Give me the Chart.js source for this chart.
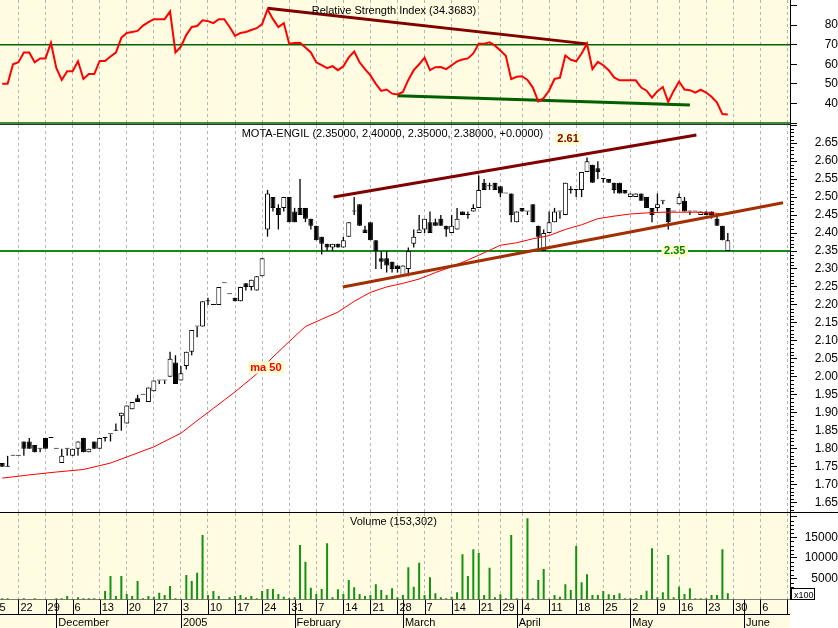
<!DOCTYPE html>
<html>
<head>
<meta charset="utf-8">
<script src="https://cdn.jsdelivr.net/npm/chart.js@4.4.1/dist/chart.umd.min.js"></script>
<style>
html, body { margin: 0; padding: 0; background: #fff; }
#wrap { position: relative; width: 838px; height: 628px; overflow: hidden; }
canvas { position: absolute; left: 0; }
</style>
</head>
<body>
<div id="wrap">
  <canvas id="rsiChart" width="838" height="125" style="top:0px"></canvas>
  <canvas id="priceChart" width="838" height="388" style="top:125px"></canvas>
  <canvas id="volChart" width="838" height="115" style="top:513px"></canvas>
</div>
<script>
// trading day index: 0 = 17 Nov 2004 ... 134 = 27 May 2005
const mondayIdx = [-2, 3, 8, 13, 18, 23, 28, 33, 38, 43, 48, 53, 58, 63, 68, 73, 78, 83, 88, 92, 96, 101, 106, 111, 116, 121, 125, 130, 135, 140, 145];
const mondayLbl = ['15','22','29','6','13','20','27','3','10','17','24','31','7','14','21','28','7','14','21','29','4','11','18','25','2','9','16','23','30','6','13'];
const monthIdx = [10, 33, 54, 74, 95, 116, 137];
const monthLbl = ['December', '2005', 'February', 'March', 'April', 'May', 'June'];

const open = [
  1.76,1.75,1.78,1.78,1.82,1.82,1.81,1.80,1.83,1.83,
  1.80,1.76,1.80,1.78,1.80,1.83,1.79,1.82,1.80,1.83,
  1.84,1.85,1.89,1.87,1.91,1.94,1.95,1.93,1.96,1.99,
  1.99,2.00,2.04,1.99,2.03,2.07,2.14,2.14,2.21,2.20,
  2.20,2.26,2.23,2.22,2.21,2.26,2.25,2.24,2.28,2.41,
  2.50,2.47,2.47,2.50,2.46,2.47,2.47,2.44,2.42,2.39,
  2.37,2.36,2.37,2.36,2.39,2.46,2.48,2.41,2.43,2.38,
  2.33,2.33,2.32,2.31,2.28,2.30,2.37,2.40,2.41,2.43,
  2.43,2.44,2.42,2.40,2.41,2.46,2.45,2.46,2.47,2.54,
  2.53,2.54,2.53,2.51,2.51,2.43,2.47,2.46,2.48,2.42,
  2.35,2.40,2.43,2.46,2.45,2.52,2.52,2.52,2.57,2.59,
  2.58,2.55,2.55,2.54,2.54,2.52,2.50,2.50,2.51,2.50,
  2.47,2.47,2.49,2.47,2.46,2.48,2.49,2.46,2.46,2.45,
  2.46,2.46,2.44,2.42,2.35];
const high = [
  1.76,1.78,1.78,1.78,1.82,1.83,1.81,1.80,1.83,1.83,
  1.80,1.80,1.80,1.80,1.82,1.83,1.80,1.82,1.83,1.83,
  1.84,1.87,1.90,1.92,1.93,1.95,1.95,1.97,1.99,1.99,
  1.99,2.07,2.06,2.03,2.07,2.13,2.14,2.21,2.22,2.20,
  2.25,2.26,2.23,2.22,2.25,2.26,2.27,2.28,2.33,2.52,
  2.50,2.48,2.50,2.50,2.47,2.55,2.47,2.44,2.42,2.39,
  2.37,2.37,2.37,2.39,2.43,2.50,2.48,2.42,2.43,2.38,
  2.35,2.35,2.32,2.31,2.31,2.36,2.41,2.45,2.44,2.46,
  2.44,2.45,2.42,2.45,2.47,2.46,2.46,2.48,2.56,2.55,
  2.54,2.54,2.53,2.51,2.51,2.46,2.47,2.46,2.48,2.42,
  2.41,2.46,2.47,2.46,2.54,2.53,2.52,2.57,2.61,2.59,
  2.60,2.55,2.55,2.54,2.54,2.52,2.51,2.51,2.51,2.50,
  2.47,2.51,2.49,2.47,2.46,2.51,2.50,2.46,2.46,2.46,
  2.46,2.46,2.45,2.42,2.40];
const low = [
  1.75,1.75,1.78,1.78,1.78,1.80,1.79,1.79,1.80,1.83,
  1.80,1.76,1.78,1.78,1.78,1.79,1.79,1.80,1.80,1.82,
  1.82,1.85,1.85,1.87,1.91,1.93,1.95,1.93,1.96,1.98,
  1.98,2.00,1.98,1.99,2.02,2.06,2.11,2.14,2.20,2.20,
  2.20,2.26,2.23,2.21,2.21,2.24,2.24,2.24,2.28,2.39,
  2.46,2.41,2.46,2.43,2.43,2.45,2.43,2.41,2.38,2.34,
  2.35,2.35,2.36,2.36,2.39,2.45,2.42,2.40,2.38,2.30,
  2.30,2.29,2.29,2.29,2.28,2.28,2.36,2.40,2.40,2.40,
  2.42,2.42,2.39,2.40,2.41,2.45,2.44,2.46,2.47,2.52,
  2.52,2.52,2.50,2.51,2.43,2.43,2.46,2.45,2.43,2.35,
  2.35,2.40,2.43,2.44,2.45,2.51,2.50,2.50,2.57,2.54,
  2.55,2.54,2.54,2.51,2.51,2.51,2.50,2.50,2.49,2.47,
  2.43,2.46,2.48,2.41,2.46,2.48,2.46,2.45,2.46,2.45,
  2.45,2.44,2.42,2.38,2.35];
const close = [
  1.75,1.75,1.78,1.78,1.80,1.80,1.79,1.80,1.80,1.83,
  1.80,1.78,1.80,1.80,1.82,1.79,1.80,1.80,1.83,1.83,
  1.84,1.85,1.90,1.92,1.93,1.93,1.95,1.97,1.99,1.99,
  1.99,2.05,1.98,2.01,2.07,2.13,2.14,2.21,2.21,2.20,
  2.25,2.26,2.23,2.21,2.25,2.25,2.27,2.28,2.33,2.51,
  2.47,2.45,2.50,2.43,2.43,2.45,2.44,2.42,2.38,2.37,
  2.36,2.37,2.36,2.38,2.43,2.46,2.42,2.40,2.38,2.35,
  2.32,2.31,2.30,2.30,2.31,2.35,2.39,2.41,2.44,2.40,
  2.42,2.42,2.41,2.42,2.44,2.45,2.45,2.47,2.52,2.52,
  2.53,2.52,2.51,2.51,2.45,2.46,2.46,2.46,2.43,2.39,
  2.40,2.43,2.46,2.46,2.54,2.52,2.52,2.57,2.60,2.54,
  2.57,2.55,2.54,2.52,2.51,2.51,2.51,2.51,2.49,2.47,
  2.45,2.48,2.49,2.43,2.46,2.50,2.46,2.46,2.46,2.46,
  2.45,2.45,2.42,2.38,2.38];
// volume in hundreds of shares
const volume = [
  280,280,100,100,280,100,280,100,100,100,
  280,280,840,100,520,280,280,280,100,2050,
  5660,840,5660,1330,840,4460,280,840,680,1650,
  1080,3250,280,100,5900,4460,6470,15540,1080,2050,
  840,100,520,840,1080,520,840,280,2050,2530,
  2530,1330,680,360,520,13130,9120,2850,1330,2530,
  13530,520,2450,1330,4700,2930,1330,840,1080,3650,
  2290,1080,2690,520,1080,7750,3090,8880,1080,5340,
  1490,520,280,680,1730,10880,5660,12090,11290,1080,
  7670,520,1250,280,15540,280,200,19560,280,4700,
  7350,200,1080,680,3650,2290,12890,4140,6060,1080,
  1080,2050,1250,1080,1490,280,280,280,1080,2130,
  12330,520,1730,10720,520,3090,1330,2690,280,280,
  280,1080,1080,12090,1530];
const rsi = [
  50,50,60,61,66,66,61,63,63,71,
  58,52,56.5,56.5,61.5,52.5,55,55,61.7,61.7,
  64,66,73.5,76,76.5,77,79.7,81.5,83,83,
  83,87,66,69,75,79,79.5,82.4,82,81,
  83,83,79,74.5,76,76.5,77.5,78.4,80.5,88,
  83,79,81,70.5,70.8,71,68.5,66,61,59.5,
  58,59,57,59,63.5,66.5,61,57.5,54.3,50,
  46.4,47.1,45,44.6,45.9,52,57,60,63.4,57,
  58.5,58.6,57.5,59.5,61.5,62.4,63,65.5,70.5,70.5,
  71.2,69.5,67,64.3,52.4,53.6,53.9,52,48.1,41,
  42.8,46.6,52.5,53.2,64.5,62.3,61.5,65.5,70.5,57.5,
  61.2,59.5,57,53.3,51.8,51.8,51.8,51.8,48.1,46.5,
  43,46.3,48.4,40.8,46.4,51.2,47.1,46.8,45.5,47,
  45.6,43.4,40.5,34.6,34.37];
// 50 day moving average, read at these day indexes
const maIdx = [0,5,10,15,20,25,28,31,33,36,39,43,47,50,53,56,59,62,65,68,71,74,77,80,83,86,89,92,95,98,101,104,107,110,113,116,119,122,125,128,131,134];
const maVal = [1.718,1.727,1.735,1.742,1.760,1.788,1.805,1.828,1.843,1.878,1.912,1.958,2.008,2.055,2.098,2.140,2.160,2.180,2.210,2.235,2.250,2.260,2.272,2.290,2.306,2.325,2.345,2.366,2.373,2.384,2.393,2.410,2.423,2.440,2.447,2.453,2.456,2.458,2.458,2.458,2.456,2.452];

// trend lines (day index, value)
const rsiResX = [49, 108], rsiResY = [88.6, 70.4];
const rsiSupX = [73, 127], rsiSupY = [44, 39.2];
const priceResX = [61.2, 128.2], priceResY = [2.50, 2.673];
const priceSupX = [62.9, 144.2], priceSupY = [2.25, 2.484];
const rsiLevels = [70, 30];
const supportLevel = 2.35;

const FONT = "'Liberation Sans', Arial, sans-serif";
const CREAM = '#fffce1';
const XMIN = -2.2 / 5.415, XMAX = 787.8 / 5.415;
const days = open.map((v, i) => i);
const pts = (xs, ys) => xs.map((x, i) => ({ x: x, y: ys[i] }));

function xScale() {
  return {
    type: 'linear', min: XMIN, max: XMAX, offset: false,
    afterBuildTicks: s => { s.ticks = mondayIdx.map(v => ({ value: v })); },
    afterFit: s => { s.height = 0; },
    ticks: { display: false },
    grid: { color: '#b4b4b4', lineWidth: 1, drawTicks: false, offset: false },
    border: { display: false, dash: [3, 3] }
  };
}

function yScale(min, max, ticks, label, pad) {
  return {
    position: 'right', min: min, max: max,
    afterBuildTicks: s => { s.ticks = ticks.map(v => ({ value: v })); },
    afterFit: s => { s.width = 48; s.paddingTop = 0; s.paddingBottom = 0; },
    ticks: { callback: label, crossAlign: 'far', padding: pad, color: '#000', autoSkip: false,
             font: { family: FONT, size: 12 } },
    grid: { drawOnChartArea: false, drawTicks: true, tickLength: 7, tickColor: '#000', color: '#000' },
    border: { display: true, color: '#000', width: 1 }
  };
}

function options(y, bottomPad) {
  return {
    responsive: false, animation: false, devicePixelRatio: 1, events: [],
    layout: { autoPadding: false, padding: { left: 0, right: 0, top: 0, bottom: bottomPad } },
    plugins: { legend: { display: false }, tooltip: { enabled: false } },
    elements: { point: { radius: 0 }, line: { tension: 0 } },
    scales: { x: xScale(), y: y }
  };
}

function panel(name, bg, minor, draw) {
  return {
    id: 'panel_' + name,
    beforeDraw(chart) {
      const { ctx, chartArea: a } = chart;
      ctx.save();
      ctx.fillStyle = '#fff';
      ctx.fillRect(0, 0, chart.width, chart.height);
      ctx.fillStyle = bg;
      ctx.fillRect(a.left, a.top, a.right - a.left, a.bottom - a.top);
      ctx.restore();
    },
    afterDraw(chart) {
      const { ctx, chartArea: a } = chart;
      const ys = chart.scales.y;
      ctx.save();
      ctx.strokeStyle = '#000';
      ctx.lineWidth = 1;
      ctx.beginPath();
      minor.forEach(v => {
        const y = Math.round(ys.getPixelForValue(v)) + 0.5;
        ctx.moveTo(a.right, y);
        ctx.lineTo(a.right + 4, y);
      });
      ctx.stroke();
      ctx.restore();
      draw(chart);
    }
  };
}

function title(ctx, text, x, y) {
  ctx.save();
  ctx.font = '11px ' + FONT;
  ctx.fillStyle = '#000';
  ctx.textBaseline = 'alphabetic';
  ctx.fillText(text, x, y);
  ctx.restore();
}

function tag(chart, text, kx, v, color) {
  const ctx = chart.ctx;
  const x = chart.scales.x.getPixelForValue(kx);
  const y = chart.scales.y.getPixelForValue(v);
  ctx.save();
  ctx.font = 'bold 11px ' + FONT;
  const w = ctx.measureText(text).width + 5, h = 12;
  ctx.fillStyle = '#ffffcc';
  ctx.fillRect(x - w / 2, y - h / 2, w, h);
  ctx.fillStyle = color;
  ctx.textAlign = 'center';
  ctx.textBaseline = 'middle';
  ctx.fillText(text, x, y + 0.5);
  ctx.restore();
}

function hline(ctx, y, x0, x1, color) {
  ctx.save();
  ctx.strokeStyle = color;
  ctx.lineWidth = 1;
  ctx.beginPath();
  ctx.moveTo(x0, y);
  ctx.lineTo(x1, y);
  ctx.stroke();
  ctx.restore();
}

// ---------- RSI ----------
new Chart(document.getElementById('rsiChart'), {
  type: 'line',
  data: {
    datasets: [
      { data: rsi.map((v, i) => ({ x: i, y: v })), borderColor: '#ff0000', borderWidth: 2, pointRadius: 0, order: 0 },
      { data: pts(rsiResX, rsiResY), borderColor: '#800000', borderWidth: 3, pointRadius: 0, order: 1 },
      { data: pts(rsiSupX, rsiSupY), borderColor: '#005f00', borderWidth: 3, pointRadius: 0, order: 1 },
      { data: pts([XMIN, XMAX], [rsiLevels[0], rsiLevels[0]]), borderColor: '#006400', borderWidth: 1.5, pointRadius: 0, order: 2 },
      { data: pts([XMIN, XMAX], [rsiLevels[1], rsiLevels[1]]), borderColor: '#006400', borderWidth: 1.5, pointRadius: 0, order: 2 }
    ]
  },
  options: options(yScale(29.02, 92.78, [30, 40, 50, 60, 70, 80, 90],
    v => (v >= 40 && v <= 80 ? String(v) : ''), 24), 0),
  plugins: [panel('rsi', CREAM, [], chart => {
    const a = chart.chartArea;
    hline(chart.ctx, 124.5, 0, a.right, '#1e3d1e');
    title(chart.ctx, 'Relative Strength Index (34.3683)', 311.7, 14);
  })]
});

// ---------- Price ----------
const priceTicks = [];
for (let i = 0; i <= 21; i++) priceTicks.push(Math.round((1.65 + i * 0.05) * 100) / 100);
const priceMinor = [];
for (let i = 163; i <= 270; i++) if (i % 5) priceMinor.push(i / 100);

new Chart(document.getElementById('priceChart'), {
  type: 'bar',
  data: {
    datasets: [
      { type: 'line', data: pts([XMIN, XMAX], [supportLevel, supportLevel]), borderColor: '#138a13', borderWidth: 2, pointRadius: 0, order: 6 },
      { data: days.map(i => ({ x: i, y: [low[i], high[i]] })), backgroundColor: '#000', borderWidth: 0,
        barThickness: 1.3, grouped: false, inflateAmount: 0, order: 5 },
      { data: days.map(i => ({ x: i, y: [open[i], close[i]] })),
        backgroundColor: c => (close[c.dataIndex] > open[c.dataIndex] ? '#ffffff' : '#000000'),
        borderColor: '#000', borderWidth: 1, borderSkipped: false, minBarLength: 1,
        barThickness: 5, grouped: false, inflateAmount: 0, order: 4 },
      { type: 'line', data: pts(maIdx, maVal), borderColor: '#ff0000', borderWidth: 1, pointRadius: 0, order: 3 },
      { type: 'line', data: pts(priceResX, priceResY), borderColor: '#800000', borderWidth: 3, pointRadius: 0, order: 1 },
      { type: 'line', data: pts(priceSupX, priceSupY), borderColor: '#a32f00', borderWidth: 3, pointRadius: 0, order: 1 }
    ]
  },
  options: options(yScale(1.621, 2.7006, priceTicks,
    v => (v < 2.68 ? v.toFixed(2) : ''), 14), 0),
  plugins: [panel('price', '#ffffff', priceMinor, chart => {
    hline(chart.ctx, 387.5, 0, chart.width, '#000');
    title(chart.ctx, 'MOTA-ENGIL (2.35000, 2.40000, 2.35000, 2.38000, +0.0000)', 241.7, 11.7);
    tag(chart, '2.61', 104.5, 2.662, '#800000');
    tag(chart, '2.35', 124.2, 2.351, '#008000');
    tag(chart, 'ma 50', 48.7, 2.026, '#ff0000');
  })]
});

// ---------- Volume ----------
const volMinor = [];
for (let v = 1000; v <= 20000; v += 1000) if (v % 5000) volMinor.push(v);

function drawDateBand(chart) {
  const { ctx, chartArea: a } = chart;
  const xs = chart.scales.x;
  const top = a.bottom, mid = 101.5, bot = chart.height;
  ctx.save();
  ctx.fillStyle = '#fff';
  ctx.fillRect(a.right + 1, top + 1, chart.width, bot);
  ctx.beginPath();
  ctx.rect(0, top, a.right, bot - top);
  ctx.clip();
  ctx.fillStyle = CREAM;
  ctx.fillRect(0, top, a.right, bot - top);
  ctx.strokeStyle = '#000';
  ctx.lineWidth = 1;
  ctx.beginPath();
  ctx.moveTo(0, top); ctx.lineTo(a.right, top);
  ctx.moveTo(0, mid); ctx.lineTo(a.right, mid);
  mondayIdx.forEach(k => {
    const x = Math.round(xs.getPixelForValue(k)) + 0.5;
    ctx.moveTo(x, top); ctx.lineTo(x, mid);
  });
  monthIdx.forEach(k => {
    const x = Math.round(xs.getPixelForValue(k)) + 0.5;
    ctx.moveTo(x, top); ctx.lineTo(x, bot);
  });
  ctx.stroke();
  ctx.fillStyle = '#000';
  ctx.font = '11px ' + FONT;
  ctx.textBaseline = 'alphabetic';
  mondayIdx.forEach((k, i) => ctx.fillText(mondayLbl[i], xs.getPixelForValue(k) + 2, top + 11.5));
  monthIdx.forEach((k, i) => ctx.fillText(monthLbl[i], xs.getPixelForValue(k) + 2, bot - 2.3));
  ctx.restore();
  // x100 unit box
  ctx.save();
  ctx.fillStyle = '#fff';
  ctx.fillRect(791, 76, 24, 10);
  ctx.strokeStyle = '#000';
  ctx.strokeRect(791.5, 75.5, 23, 11);
  ctx.fillStyle = '#000';
  ctx.font = '9px ' + FONT;
  ctx.textBaseline = 'alphabetic';
  ctx.fillText('x100', 794, 84.5);
  ctx.restore();
}

new Chart(document.getElementById('volChart'), {
  type: 'bar',
  data: {
    datasets: [
      { data: days.map(i => ({ x: i, y: volume[i] })), backgroundColor: '#109410', borderWidth: 0,
        barThickness: 2, grouped: false, inflateAmount: 0 }
    ]
  },
  options: options(yScale(0, 20843, [5000, 10000, 15000, 20000],
    v => (v < 20000 ? String(v) : ''), 4), 28.5),
  plugins: [panel('vol', CREAM, volMinor, chart => {
    drawDateBand(chart);
    title(chart.ctx, 'Volume (153,302)', 350, 12);
  })]
});
</script>
</body>
</html>
